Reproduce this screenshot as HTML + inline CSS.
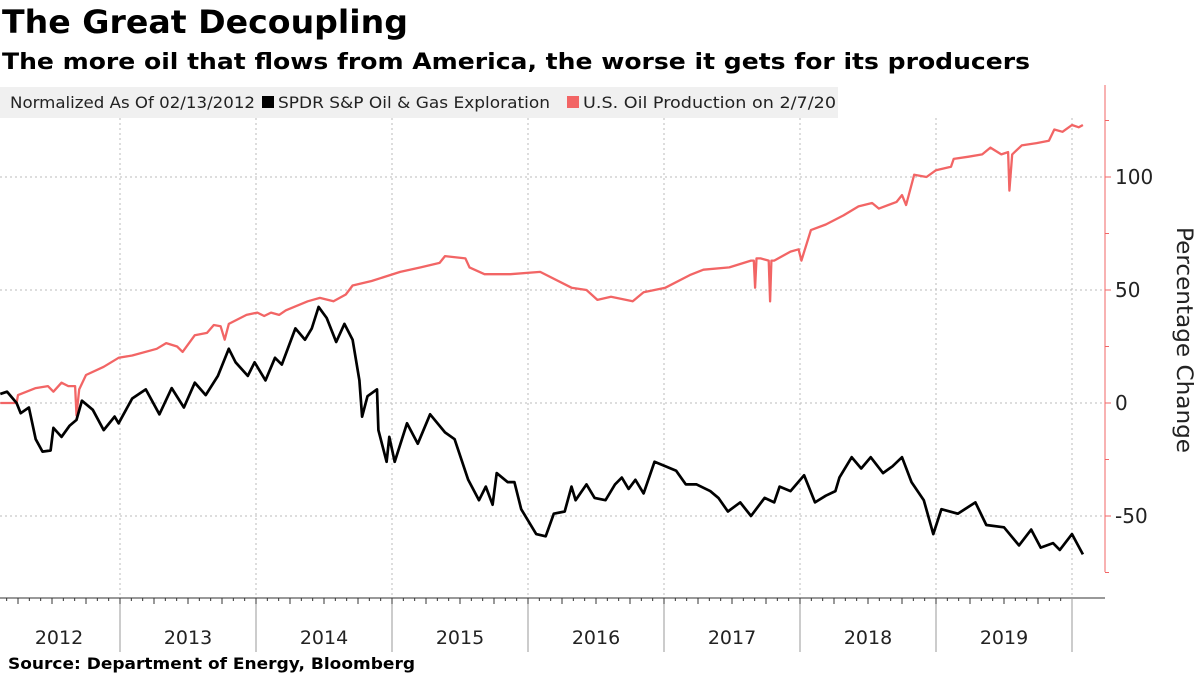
<!DOCTYPE html>
<html><head><meta charset="utf-8"><style>
html,body{margin:0;padding:0;background:#fff;}
svg{display:block;}
text{font-family:"DejaVu Sans","Liberation Sans",sans-serif;}
</style></head><body>
<svg id="chart" width="1200" height="675" viewBox="0 0 1200 675" xmlns="http://www.w3.org/2000/svg">
<text x="2" y="33" font-size="32" font-weight="bold" textLength="406" lengthAdjust="spacingAndGlyphs">The Great Decoupling</text>
<text x="2" y="69" font-size="22" font-weight="bold" font-family="DejaVu Sans Mono,monospace" textLength="1028" lengthAdjust="spacingAndGlyphs">The more oil that flows from America, the worse it gets for its producers</text>
<g>
<rect x="0" y="87" width="838" height="31" fill="#f0f0f0"/>
<text x="10" y="108" font-size="16" fill="#222" textLength="245" lengthAdjust="spacingAndGlyphs">Normalized As Of 02/13/2012</text>
<rect x="262" y="96" width="12" height="12" fill="#000"/>
<text x="278" y="108" font-size="16" fill="#222" textLength="272" lengthAdjust="spacingAndGlyphs">SPDR S&amp;P Oil &amp; Gas Exploration</text>
<rect x="567" y="96" width="12" height="12" fill="#f26565"/>
<text x="583" y="108" font-size="16" fill="#222" textLength="253" lengthAdjust="spacingAndGlyphs">U.S. Oil Production on 2/7/20</text>
</g>
<g id="grid"></g>
<g id="axes"></g>
<g id="series"></g>
<text transform="translate(1177,340) rotate(90)" text-anchor="middle" font-size="22" fill="#222" textLength="226" lengthAdjust="spacingAndGlyphs">Percentage Change</text>
<text x="8" y="669" font-size="16" font-weight="bold" font-family="DejaVu Sans Mono,monospace" textLength="407" lengthAdjust="spacingAndGlyphs">Source: Department of Energy, Bloomberg</text>
</svg>
<script>
const yTicks=[100,50,0,-50];
const years=[2012,2013,2014,2015,2016,2017,2018,2019];
const spdrDates=[2012.12,2012.17,2012.24,2012.27,2012.33,2012.38,2012.43,2012.49,2012.51,2012.57,2012.63,2012.68,2012.72,2012.80,2012.88,2012.96,2012.99,2013.09,2013.19,2013.29,2013.38,2013.47,2013.55,2013.63,2013.72,2013.80,2013.85,2013.94,2013.99,2014.07,2014.14,2014.19,2014.24,2014.29,2014.36,2014.41,2014.46,2014.52,2014.59,2014.65,2014.71,2014.76,2014.78,2014.82,2014.89,2014.90,2014.96,2014.98,2015.02,2015.11,2015.19,2015.28,2015.39,2015.46,2015.56,2015.64,2015.69,2015.74,2015.77,2015.85,2015.90,2015.95,2016.06,2016.13,2016.19,2016.27,2016.32,2016.35,2016.43,2016.49,2016.57,2016.64,2016.69,2016.74,2016.79,2016.85,2016.93,2017.01,2017.09,2017.16,2017.24,2017.34,2017.40,2017.47,2017.56,2017.64,2017.74,2017.81,2017.85,2017.93,2018.03,2018.11,2018.19,2018.26,2018.29,2018.38,2018.45,2018.52,2018.61,2018.68,2018.75,2018.82,2018.91,2018.98,2019.04,2019.16,2019.29,2019.37,2019.50,2019.61,2019.70,2019.77,2019.86,2019.91,2020.00,2020.08];
const spdrValues=[4,5,0,-4.5,-2,-16,-21.5,-21,-11,-15,-10,-7.5,1,-3,-12,-6,-9,2,6,-5,6.6,-2,9,3.5,12,24,18,12,18,10,20,17,25,33,28,33,42.5,37.6,27,35,28,10,-6,3,6,-12,-26,-15,-26,-9,-18,-5,-13,-16,-34,-43,-37,-45,-31,-35,-35,-47,-58,-59,-49,-48,-37,-43,-36,-42,-43,-36,-33,-38,-34,-40,-26,-28,-30,-36,-36,-39,-42,-48,-44,-50,-42,-44,-37,-39,-32,-44,-41,-39,-33,-24,-29,-24,-31,-28,-24,-35,-43,-58,-47,-49,-44,-54,-55,-63,-56,-64,-62,-65,-58,-67];
const prodDates=[2012.12,2012.24,2012.25,2012.38,2012.47,2012.51,2012.57,2012.62,2012.67,2012.68,2012.70,2012.75,2012.88,2012.99,2013.09,2013.27,2013.34,2013.42,2013.46,2013.55,2013.64,2013.69,2013.74,2013.77,2013.80,2013.93,2014.01,2014.06,2014.11,2014.17,2014.22,2014.38,2014.47,2014.57,2014.66,2014.71,2014.85,2015.06,2015.21,2015.35,2015.39,2015.54,2015.57,2015.68,2015.87,2016.09,2016.32,2016.43,2016.51,2016.61,2016.77,2016.85,2017.01,2017.19,2017.29,2017.48,2017.64,2017.66,2017.67,2017.68,2017.71,2017.77,2017.78,2017.79,2017.81,2017.93,2017.99,2018.01,2018.08,2018.19,2018.32,2018.43,2018.53,2018.58,2018.71,2018.75,2018.78,2018.84,2018.93,2019.00,2019.11,2019.13,2019.24,2019.34,2019.40,2019.48,2019.53,2019.54,2019.56,2019.63,2019.74,2019.83,2019.87,2019.93,2020.00,2020.05,2020.08];
const prodValues=[0,0,3.5,6.6,7.5,5,9,7.5,7.5,-5.5,6,12.4,16,20,21,24,26.5,25,22.6,30,31,34.5,34,28,35,39,40,38.5,40,39,41,45,46.5,45,48,52,54,58,60,62,65,64,60,57,57,58,51,50,45.6,47,45,49,51,56.6,59,60,63,63,51,64,64,63,45,63,63,67,68,63,76.5,79,83,87,88.5,86,89,92,87.6,101,100,103,104.5,108,109,110,113,110,111,94,110,114,115,116,121,120,123,122,123];

const NS='http://www.w3.org/2000/svg';
const X0=2012, XPX=-16, PXY=136;
function xs(t){return XPX+(t-X0)*PXY;}
function ys(v){return 403-v*2.26;}
function mk(tag,attrs,parent){const e=document.createElementNS(NS,tag);for(const k in attrs)e.setAttribute(k,attrs[k]);parent.appendChild(e);return e;}
const grid=document.getElementById('grid'),axes=document.getElementById('axes'),series=document.getElementById('series');
yTicks.forEach(v=>{
  const l=mk('line',{x1:0,x2:1105,y1:ys(v),y2:ys(v),stroke:'#bbb','stroke-width':1,'stroke-dasharray':'2,3'},grid);
  
  
  const tk=mk('line',{x1:1105,x2:1111,y1:ys(v),y2:ys(v),stroke:'#f26565','stroke-width':1},axes);
  
  
  const t=mk('text',{x:1115,y:ys(v)+7,'font-size':20,fill:'#222'},axes);
  t.textContent=v;
  
  
});
for(let v=-75;v<=125;v+=25){if(v%50===0)continue;
  const tk=mk('line',{x1:1105,x2:1109,y1:ys(v),y2:ys(v),stroke:'#f26565','stroke-width':1},axes);
  
  
}
const yaxis=mk('line',{x1:1105,x2:1105,y1:85,y2:572,stroke:'#f26565','stroke-width':1},axes);


const xaxis=mk('line',{x1:0,x2:1105,y1:598,y2:598,stroke:'#333','stroke-width':1},axes);


years.forEach(y=>{
  const gx=xs(y+1);
  if(gx<1105){
    const g=mk('line',{x1:gx,x2:gx,y1:118,y2:598,stroke:'#bbb','stroke-width':1,'stroke-dasharray':'2,3'},grid);
    
    
    const s=mk('line',{x1:gx,x2:gx,y1:598,y2:652,stroke:'#999','stroke-width':1},axes);
    
    
  }
  for(let q=0;q<12;q++){const mx=xs(y+q/12);if(mx<0||mx>1105)continue;
    const m=mk('line',{x1:mx,x2:mx,y1:598,y2:q%3===0?604:601,stroke:'#333','stroke-width':1},axes);
    
    
  }
  const t=mk('text',{x:y===2012?59:xs(y)+68,y:644,'font-size':19,'text-anchor':'middle',fill:'#222'},axes);
  t.textContent=y;
  
  
});
function pathFor(d,v){return d.map((t,i)=>(i?'L':'M')+xs(t).toFixed(1)+','+ys(v[i]).toFixed(1)).join(' ');}
const pr=mk('path',{d:pathFor(prodDates,prodValues),fill:'none',stroke:'#f26565','stroke-width':2.3,'stroke-linejoin':'round'},series);


const sp=mk('path',{d:pathFor(spdrDates,spdrValues),fill:'none',stroke:'#000','stroke-width':2.7,'stroke-linejoin':'round'},series);


</script>
</body></html>
